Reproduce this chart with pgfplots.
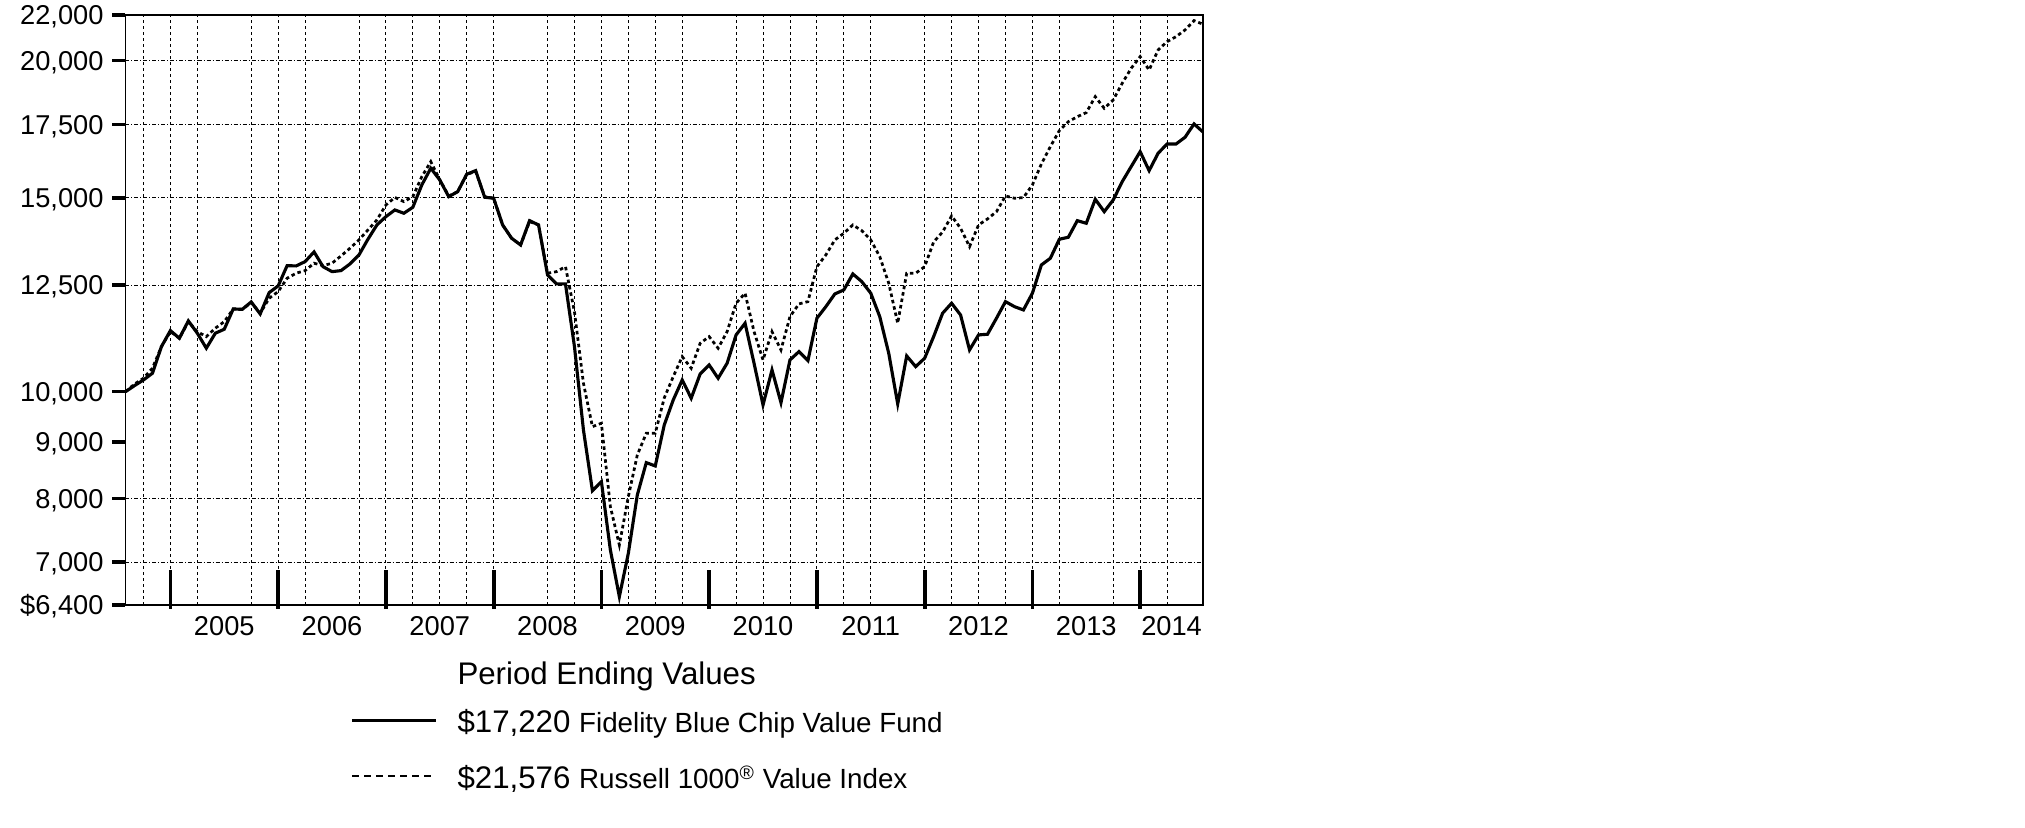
\documentclass[border=0pt]{standalone}
\usepackage{pgfplots}
\pgfplotsset{compat=1.18}
\usepackage{pgfplotstable}
\usepackage{fontspec}
\setmainfont{Liberation Sans}

% month index 0 = Jul 2004 ... 120 = Jul 2014
\pgfplotstableread{
i fund idx
0 10000 10000
1 10127 10160
2 10248 10285
3 10393 10503
4 10988 10988
5 11363 11339
6 11183 11183
7 11596 11579
8 11301 11339
9 10952 11221
10 11301 11420
11 11396 11579
12 11890 11890
13 11880 11880
14 12066 12048
15 11766 11784
16 12303 12160
17 12477 12329
18 13018 12679
19 13010 12813
20 13128 12883
21 13397 13084
22 12990 13018
23 12856 13084
24 12883 13285
25 13065 13501
26 13313 13738
27 13758 14028
28 14176 14325
29 14424 14782
30 14628 15016
31 14527 14885
32 14711 15041
33 15414 15684
34 15962 16184
35 15576 15576
36 15041 15063
37 15199 15199
38 15763 15763
39 15882 15849
40 15022 15041
41 14991 14991
42 14176 14176
43 13787 13787
44 13594 13594
45 14304 14274
46 14176 14176
47 12768 12813
48 12529 12856
49 12529 12990
50 10988 11823
51 9230 10178
52 8129 9294
53 8284 9361
54 7180 7861
55 6512 7256
56 7131 8028
57 8056 8760
58 8620 9167
59 8560 9167
60 9327 9870
61 9828 10319
62 10248 10761
63 9864 10503
64 10378 11067
65 10575 11221
66 10285 10952
67 10613 11339
68 11261 12033
69 11540 12288
70 10613 11339
71 9726 10686
72 10465 11339
73 9773 10913
74 10686 11700
75 10874 12016
76 10671 12074
77 11661 12990
78 11948 13313
79 12270 13738
80 12373 13931
81 12794 14176
82 12590 14008
83 12288 13738
84 11700 13266
85 10837 12547
86 9747 11540
87 10776 12813
88 10538 12813
89 10725 12990
90 11221 13680
91 11784 13969
92 12033 14445
93 11742 14078
94 10913 13546
95 11261 14176
96 11277 14355
97 11661 14576
98 12074 15063
99 11948 14991
100 11865 15010
101 12288 15414
102 13037 16106
103 13221 16700
104 13758 17269
105 13815 17597
106 14304 17782
107 14226 17932
108 14959 18542
109 14576 18097
110 14937 18414
111 15521 19070
112 16016 19678
113 16526 20161
114 15882 19608
115 16471 20446
116 16795 20804
117 16795 21023
118 17032 21320
119 17513 21739
120 17220 21576
}\datatable

\begin{document}
\begin{tikzpicture}
\path[use as bounding box] (-50.2pt,-89.2pt) rectangle (759.8pt,242pt);
\begin{axis}[
  at={(0pt,0pt)}, anchor=south west,
  scale only axis, width=431pt, height=236pt,
  xmin=0, xmax=120,
  ymode=log, ymin=6400, ymax=22000,
  axis line style={line width=0.6pt},
  xtick pos=bottom, ytick pos=left,
  tick align=outside,
  major tick length=5.2pt,
  minor tick length=0pt,
  % year labels
  xtick={11,23,35,47,59,71,83,95,107,116.5},
  xticklabels={2005,2006,2007,2008,2009,2010,2011,2012,2013,2014},
  x tick style={draw=none},
  xticklabel style={anchor=north, inner sep=0pt, yshift=0.6pt},
  % year boundary marks
  extra x ticks={5,17,29,41,53,65,77,89,101,113},
  extra x tick labels={},
  extra x tick style={tick align=inside, major tick length=15.6pt,
    grid=none, x tick style={draw=black, line width=1.5pt, yshift=-1.6pt}},
  % quarterly grid lines
  minor xtick={2,5,8,14,17,20,26,29,32,35,38,41,47,50,53,56,59,62,68,71,74,77,80,83,89,92,95,98,101,104,110,113,116},
  xminorgrids=true,
  x grid style={line width=0.35pt, black, dash pattern=on 1.2pt off 1.2pt},
  ytick={6400,7000,8000,9000,10000,12500,15000,17500,20000,22000},
  yticklabels={{\$6,400},{7,000},{8,000},{9,000},{10,000},{12,500},{15,000},{17,500},{20,000},{22,000}},
  y tick style={line width=1.4pt, black},
  yticklabel style={anchor=base east, inner sep=0pt, xshift=-3.4pt, yshift=-3.9pt},
  minor ytick={7000,8000,12500,15000,17500,20000},
  yminorgrids=true,
  y grid style={line width=0.35pt, black, dash pattern=on 1.6pt off 0.8pt on 0.4pt off 0.8pt},
  tick label style={font=\fontsize{10.9}{12}\selectfont},
]
\addplot[line width=1.1pt, black, dash pattern=on 1.4pt off 1.2pt] table[x=i, y=idx] {\datatable};
\addplot[line width=1.25pt, black] table[x=i, y=fund] {\datatable};
\end{axis}
\node[anchor=base west, inner sep=0pt] at (132.6pt,-31.8pt) {\fontsize{12.5}{15}\selectfont Period Ending Values};
\draw[line width=1.2pt] (90.7pt,-46.3pt) -- (124pt,-46.3pt);
\node[anchor=base west, inner sep=0pt] at (132.6pt,-51pt) {\fontsize{12.5}{15}\selectfont \$17,220 {\fontsize{11.1}{13}\selectfont Fidelity Blue Chip Value Fund}};
\draw[line width=1pt, dash pattern=on 2.8pt off 2pt] (90.7pt,-68.4pt) -- (124pt,-68.4pt);
\node[anchor=base west, inner sep=0pt] at (132.6pt,-73.6pt) {\fontsize{12.5}{15}\selectfont \$21,576 {\fontsize{11.1}{13}\selectfont Russell 1000\textsuperscript{\textregistered} Value Index}};
\end{tikzpicture}
\end{document}
